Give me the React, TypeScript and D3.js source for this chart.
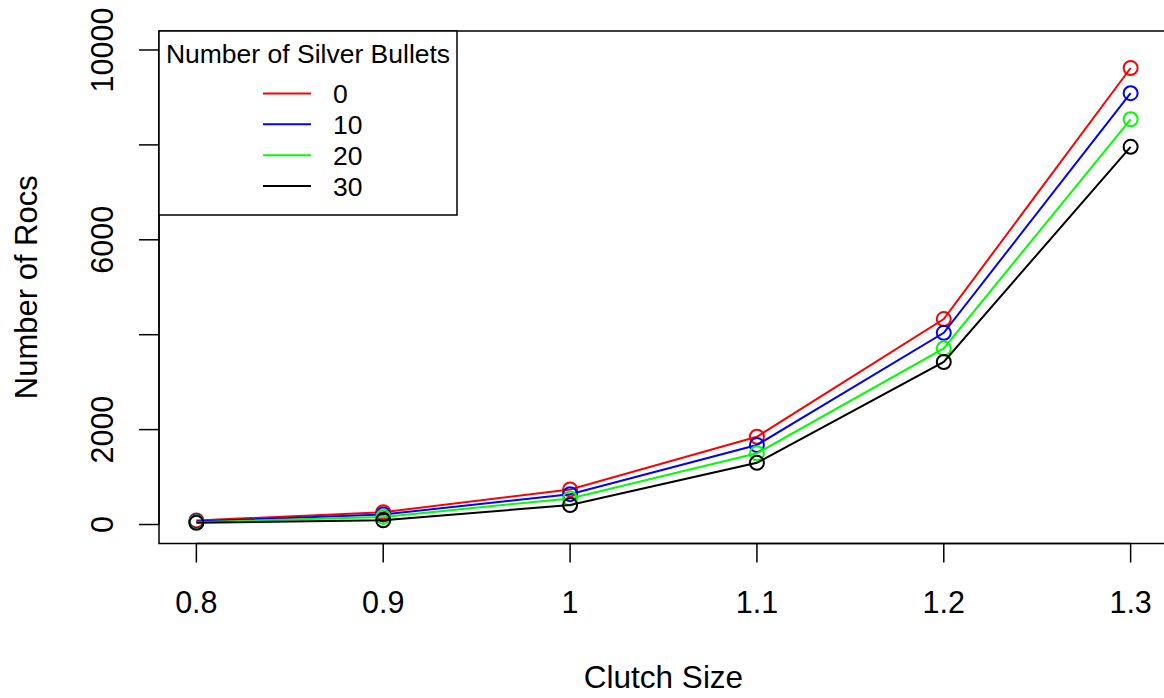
import * as d3 from "d3";

const clutchSizes = [0.8, 0.9, 1.0, 1.1, 1.2, 1.3];
const bullets = ["0", "10", "20", "30"];
const colors = ["#ff0000", "#0000ff", "#00ff00", "#000000"];
const rocs0 = [85, 260, 740, 1850, 4330, 9620];
const rocs10 = [65, 210, 640, 1675, 4040, 9090];
const rocs20 = [50, 160, 550, 1500, 3710, 8540];
const rocs30 = [35, 90, 410, 1300, 3425, 7960];
const xTicks = [0.8, 0.9, 1.0, 1.1, 1.2, 1.3];
const yTicks = [0, 2000, 4000, 6000, 8000, 10000];
const yLabels = [0, 2000, 6000, 10000];

const series = [rocs0, rocs10, rocs20, rocs30];

export default function App() {
  const width = 1164;
  const height = 698;
  const left = 159, right = 1168, top = 31, bottom = 543.5;
  const font = "'Liberation Sans', Arial, sans-serif";

  const x = d3.scaleLinear([0.78, 1.32], [left, right]);
  const y = d3.scaleLinear([-400, 10400], [bottom, top]);
  const line = d3.line<number>().x((_d, i) => x(clutchSizes[i])).y(d => y(d));

  // legend box
  const lx0 = 159, lx1 = 457, ly0 = 31, ly1 = 215;
  const legendY = d3.scaleLinear([0, 3], [93.5, 186]);

  return (
    <svg width={width} height={height} style={{ position: "absolute", left: 0, top: 0, background: "white" }} fontFamily={font}>
      <g fill="none" strokeWidth={2}>
        {series.map((s, k) => (
          <g key={k} stroke={colors[k]}>
            <path d={line(s) || ""} />
            {s.map((v, i) => (
              <circle key={i} cx={x(clutchSizes[i])} cy={y(v)} r={7} />
            ))}
          </g>
        ))}
      </g>

      {/* plot frame */}
      <rect x={left} y={top} width={right - left} height={bottom - top} fill="none" stroke="#000" strokeWidth={1.5} />

      {/* x axis */}
      <g stroke="#000" strokeWidth={1.5}>
        <line x1={x(0.8)} x2={x(1.3)} y1={bottom} y2={bottom} />
        {xTicks.map(t => (
          <line key={t} x1={x(t)} x2={x(t)} y1={bottom} y2={bottom + 19} />
        ))}
      </g>
      <g fontSize={30.5} textAnchor="middle" fill="#000">
        {xTicks.map(t => (
          <text key={t} x={x(t)} y={613}>{d3.format("~g")(t)}</text>
        ))}
      </g>

      {/* y axis */}
      <g stroke="#000" strokeWidth={1.5}>
        <line x1={left} x2={left} y1={y(0)} y2={y(10000)} />
        {yTicks.map(t => (
          <line key={t} x1={left - 20} x2={left} y1={y(t)} y2={y(t)} />
        ))}
      </g>
      <g fontSize={30.5} textAnchor="middle" fill="#000">
        {yLabels.map(t => (
          <text key={t} transform={`translate(113,${y(t)}) rotate(-90)`}>{t}</text>
        ))}
      </g>

      <text x={x(1.05)} y={688} fontSize={31.5} textAnchor="middle">Clutch Size</text>
      <text transform={`translate(37,${(top + bottom) / 2}) rotate(-90)`} fontSize={31} textAnchor="middle">Number of Rocs</text>

      {/* legend */}
      <rect x={lx0} y={ly0} width={lx1 - lx0} height={ly1 - ly0} fill="white" stroke="#000" strokeWidth={1.5} />
      <text x={(lx0 + lx1) / 2} y={63} fontSize={26.5} textAnchor="middle">Number of Silver Bullets</text>
      {bullets.map((b, k) => (
        <g key={b}>
          <line x1={263} x2={311} y1={legendY(k)} y2={legendY(k)} stroke={colors[k]} strokeWidth={2} />
          <text x={333} y={legendY(k) + 9.5} fontSize={26.5}>{b}</text>
        </g>
      ))}
    </svg>
  );
}
